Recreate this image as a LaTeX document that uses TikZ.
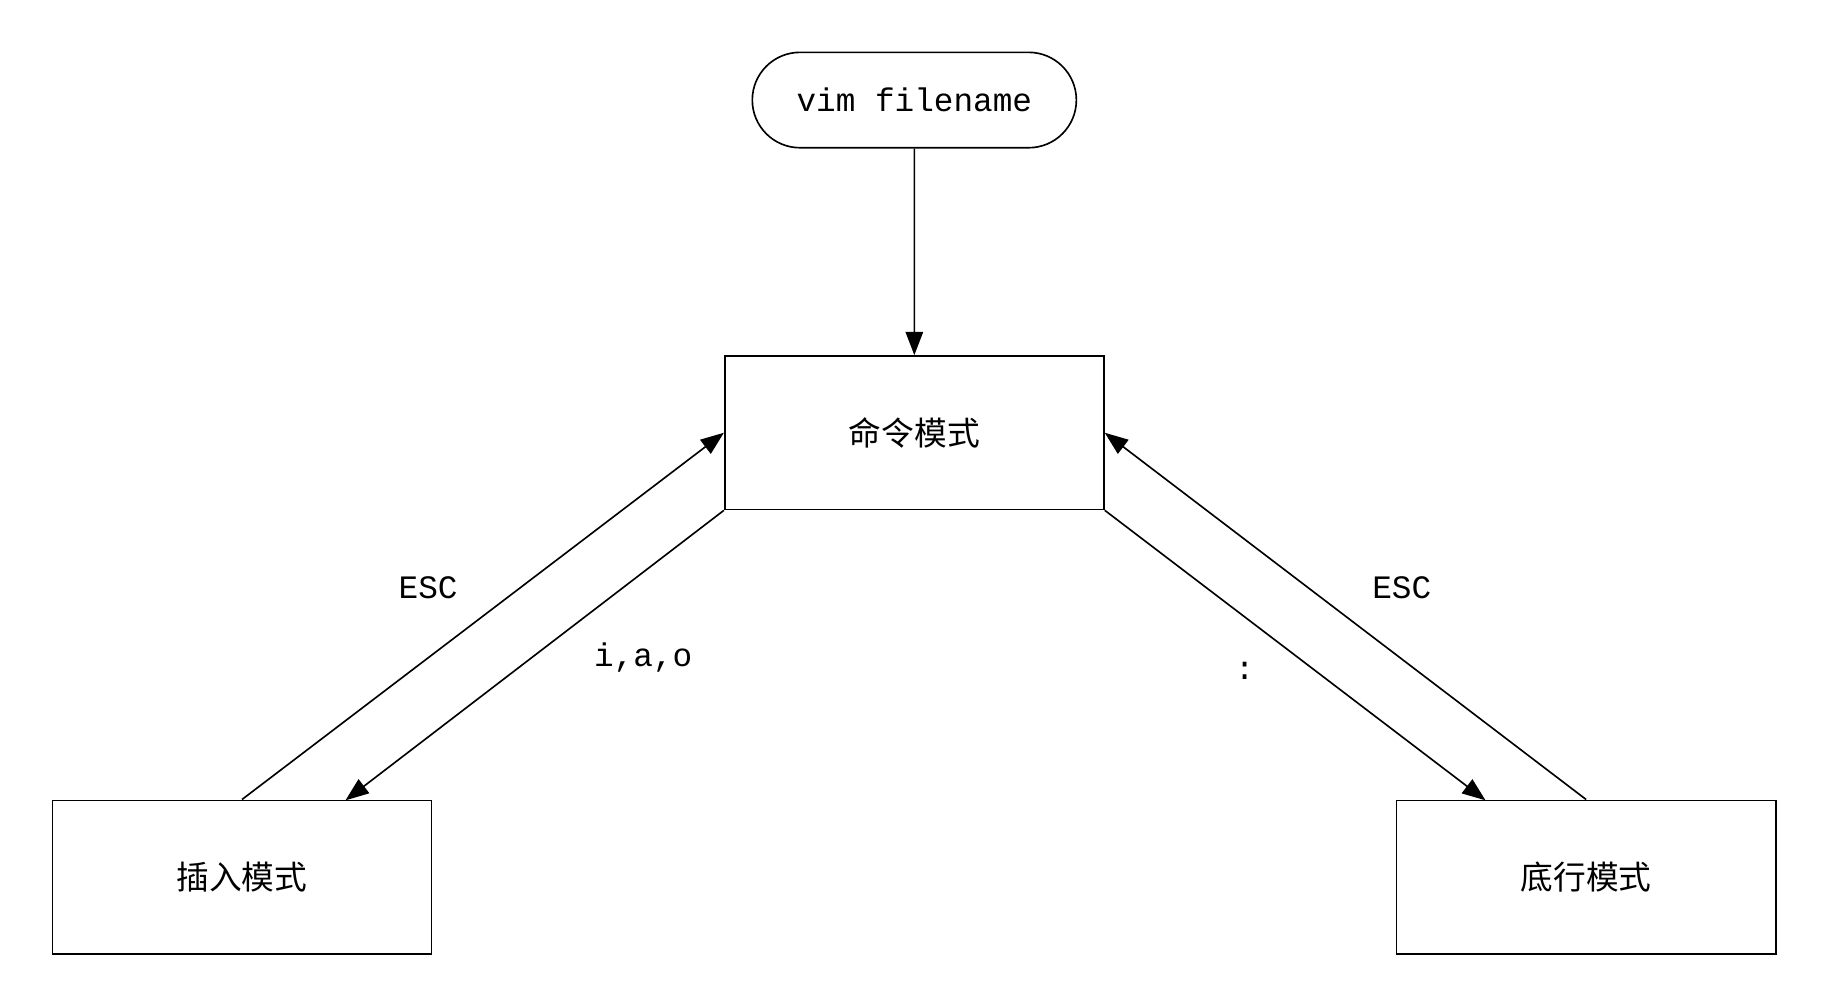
\documentclass[tikz,border=0pt]{standalone}
\usepackage{fontspec}
\setmonofont{Liberation Mono}
\newfontfamily\cjk{Noto Sans CJK SC}
\usetikzlibrary{positioning}
\usetikzlibrary{arrows.meta}
\usetikzlibrary{shapes.misc}
\begin{document}
\begin{tikzpicture}[
			state/.style={draw, rectangle, minimum width=3.26cm, minimum height=1.32cm, font=\cjk\fontsize{8}{10}\selectfont},
			start/.style={draw, rounded rectangle, minimum width=3.02cm, minimum height=0.82cm, font=\ttfamily\fontsize{8}{10}\selectfont},
			lbl/.style={font=\ttfamily\fontsize{8}{10}\selectfont},
			arrow/.style={-{Triangle[length=0.2cm,width=0.15cm]}}
			]
			\useasboundingbox (0,0) rectangle (15.68,-8.6);
			% Nodes
			\node[start] (open) at (7.86,-0.86) {vim filename};
			\node[state] (command) at (7.86,-3.72) {命令模式};
			\node[state] (insert) at (2.08,-7.54) {插入模式};
			\node[state] (lastline) at (13.635,-7.54) {底行模式};
			\coordinate (insertin) at (2.97,-6.88);
			\coordinate (lastin) at (12.77,-6.88);
			
			% Arrows
			\draw[arrow] (open) -- (command);
			\draw[arrow] (insert.north) -- (command.west);
			\draw[arrow] (command.south west) -- (insertin);
			\draw[arrow] (command.south east) -- (lastin);
			\draw[arrow] (lastline.north) -- (command.east);
			
			% Labels
			\node[lbl] (esc1) at (3.68,-5.05) {ESC};
			\node[lbl] (iao) at (5.53,-5.65) {i,a,o};
			\node[lbl] (colon) at (10.7,-5.77) {:};
			\node[lbl] (esc2) at (12.05,-5.05) {ESC};
		\end{tikzpicture}
\end{document}
